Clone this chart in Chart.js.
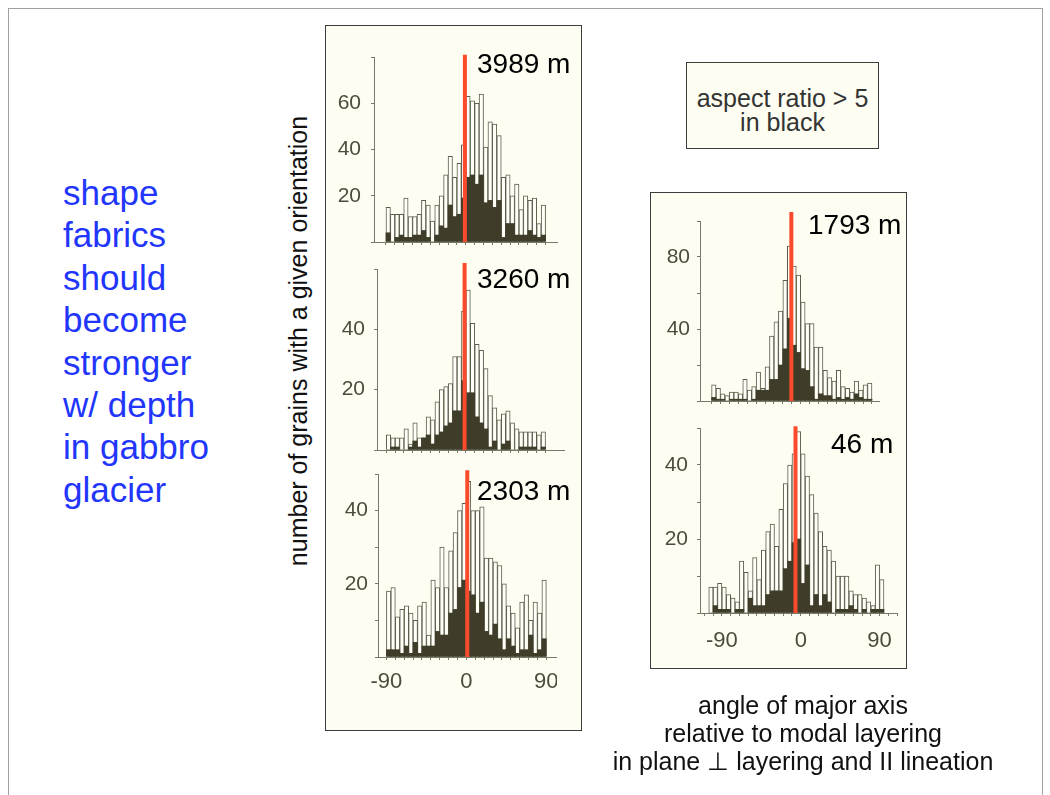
<!DOCTYPE html>
<html>
<head>
<meta charset="utf-8">
<script src="https://cdn.jsdelivr.net/npm/chart.js@4.4.1/dist/chart.umd.min.js"></script>
<style>
	body { margin:0; width:1050px; height:795px; overflow:hidden; position:relative; background:#fff;
		font-family:"Liberation Sans", Arial, Helvetica, sans-serif; }
	.abs { position:absolute; }
	#slide { left:8px; top:8px; width:1033px; height:800px; border:1px solid #a0a0a0; border-bottom:none; }
	.panel { background:#fdfdf1; border:1px solid #3c3c3c; box-sizing:border-box; }
	.depth { font-size:28px; line-height:28px; color:#000; white-space:nowrap; }
	#point { left:63px; top:172px; font-size:35px; line-height:42.4px; color:#2236fb; }
	#ylab { left:298px; top:341px; font-size:25px; color:#111; white-space:nowrap;
		transform:translate(-50%,-50%) rotate(-90deg); }
	#legend { left:686px; top:62px; width:193px; height:87px; }
	#legendTxt { left:686px; top:86px; width:193px; text-align:center; font-size:25px; line-height:24px; color:#333; }
	#caption { left:553px; top:691px; width:500px; text-align:center; font-size:25px; line-height:28px; color:#111; }
	canvas { position:absolute; }
</style>
</head>
<body>
<div id="slide" class="abs"></div>

<div id="point" class="abs">shape<br>fabrics<br>should<br>become<br>stronger<br>w/ depth<br>in gabbro<br>glacier</div>
<div id="ylab" class="abs">number of grains with a given orientation</div>

<div class="abs panel" style="left:325px; top:25px; width:257px; height:706px;"></div>
<div class="abs panel" style="left:650px; top:192px; width:257px; height:477px;"></div>
<div id="legend" class="abs panel"></div>
<div id="legendTxt" class="abs">aspect ratio &gt; 5<br>in black</div>

<canvas id="c3989" width="232" height="209" style="left:326px; top:45px;"></canvas>
<canvas id="c3260" width="239" height="205" style="left:326px; top:257px;"></canvas>
<canvas id="c2303" width="231" height="235" style="left:326px; top:462px;"></canvas>
<canvas id="c1793" width="228" height="204" style="left:652px; top:209px;"></canvas>
<canvas id="c46" width="246" height="240" style="left:652px; top:415px;"></canvas>

<div class="abs depth" style="left:477px; top:50px;">3989 m</div>
<div class="abs depth" style="left:477px; top:265px;">3260 m</div>
<div class="abs depth" style="left:477px; top:477px;">2303 m</div>
<div class="abs depth" style="left:808px; top:211px;">1793 m</div>
<div class="abs depth" style="left:831px; top:430px;">46 m</div>

<div id="caption" class="abs">angle of major axis<br>relative to modal layering<br>in plane &#8869; layering and II lineation</div>

<script>
// 5 degree bins, centre of each bin
var bins36 = [-87.5, -82.5, -77.5, -72.5, -67.5, -62.5, -57.5, -52.5, -47.5, -42.5, -37.5, -32.5,
	-27.5, -22.5, -17.5, -12.5, -7.5, -2.5, 2.5, 7.5, 12.5, 17.5, 22.5, 27.5,
	32.5, 37.5, 42.5, 47.5, 52.5, 57.5, 62.5, 67.5, 72.5, 77.5, 82.5, 87.5];
var bins40 = [-102.5, -97.5, -92.5, -87.5, -82.5, -77.5, -72.5, -67.5, -62.5, -57.5, -52.5, -47.5,
	-42.5, -37.5, -32.5, -27.5, -22.5, -17.5, -12.5, -7.5, -2.5, 2.5, 7.5, 12.5,
	17.5, 22.5, 27.5, 32.5, 37.5, 42.5, 47.5, 52.5, 57.5, 62.5, 67.5, 72.5, 77.5, 82.5, 87.5, 92.5];

// all grains (white) and grains with aspect ratio > 5 (black)
var all3989 = [15, 12, 12, 12, 19, 11, 11, 12, 18, 16, 9, 16, 20, 29, 37, 28, 34, 42,
	63, 61, 60, 64, 41, 52, 51, 46, 28, 29, 20, 25, 14, 20, 18, 19, 8, 16];
var blk3989 = [4, 0, 2, 3, 2, 2, 3, 3, 5, 2, 0, 3, 7, 6, 16, 11, 12, 19,
	28, 29, 25, 29, 17, 18, 15, 18, 2, 8, 8, 3, 3, 3, 5, 3, 2, 3];

var all3260 = [5, 4, 4, 4, 7, 2, 9, 4, 4, 11, 10, 16, 20, 21, 22, 31, 31, 46,
	53, 42, 35, 33, 27, 18, 14, 10, 12, 13, 9, 7, 6, 6, 6, 6, 5, 6];
var blk3260 = [0, 1, 1, 0, 0, 1, 3, 1, 4, 5, 2, 5, 6, 8, 9, 13, 13, 23,
	19, 19, 11, 9, 7, 1, 3, 0, 2, 3, 0, 0, 1, 1, 1, 1, 0, 1];

var all2303 = [18, 19, 11, 13, 14, 12, 10, 14, 15, 6, 21, 19, 30, 19, 29, 34, 40, 42,
	48, 40, 40, 41, 27, 27, 26, 25, 20, 14, 12, 8, 15, 17, 10, 15, 12, 21];
var blk2303 = [2, 2, 2, 1, 3, 1, 4, 1, 3, 3, 3, 7, 6, 6, 12, 13, 19, 21,
	18, 17, 12, 15, 7, 6, 9, 5, 2, 5, 3, 1, 2, 2, 6, 1, 2, 5];

var all1793 = [9, 7, 4, 3, 5, 5, 4, 12, 6, 8, 16, 7, 19, 36, 44, 50, 67, 86,
	75, 70, 55, 43, 43, 30, 30, 17, 13, 11, 17, 8, 7, 5, 11, 6, 9, 10];
var blk1793 = [2, 1, 1, 0, 1, 1, 1, 1, 0, 1, 6, 6, 6, 12, 12, 20, 29, 46,
	31, 27, 18, 17, 8, 1, 4, 3, 3, 1, 2, 1, 2, 1, 4, 2, 1, 1];

var all46 = [7, 7, 8, 7, 5, 4, 3, 14, 11, 6, 15, 9, 17, 22, 24, 18, 28, 35, 40, 43,
	49, 43, 37, 32, 27, 22, 18, 17, 14, 10, 10, 10, 6, 5, 5, 4, 3, 2, 13, 9];
var blk46 = [0, 2, 1, 1, 1, 0, 1, 1, 0, 4, 2, 2, 2, 5, 6, 6, 6, 12, 14, 19,
	20, 8, 13, 2, 5, 2, 5, 3, 0, 1, 1, 1, 2, 1, 0, 1, 0, 1, 1, 1];

// modal layering direction (red line) and how far up it goes
var redAngle = [-1, -1.5, 1, -0.5, -6];
var redTop = [81, 62, 51, 105, 50.5];

// axis ticks and the ones that carry a label
var yTicks = [[0, 20, 40, 60, 80], [0, 20, 40, 60], [0, 10, 20, 30, 40, 50], [0, 20, 40, 60, 80, 100], [0, 10, 20, 30, 40, 50]];
var yLabels = [[20, 40, 60], [20, 40], [20, 40], [40, 80], [20, 40]];
var xTicks36 = [-90, -80, -70, -60, -50, -40, -30, -20, -10, 0, 10, 20, 30, 40, 50, 60, 70, 80, 90];
var xTicks40 = [-110, -100, -90, -80, -70, -60, -50, -40, -30, -20, -10, 0, 10, 20, 30, 40, 50, 60, 70, 80, 90, 100, 110];
var xLabels = [-90, 0, 90];

var RED = '#fb4a2c';
var DARK = '#3f3d29';
var EDGE = '#5c5c4a';
var AXIS = '#77776a';
var TICK = '#4c4c3e';

Chart.defaults.font.family = '"Liberation Sans", Arial, Helvetica, sans-serif';

function pts(bins, vals) {
	var out = [];
	for (var i = 0; i < vals.length; i++) {
		out.push({ x: bins[i], y: vals[i] });
	}
	return out;
}

function histo(id, k, bins, all, blk, lay) {
	var ctx = document.getElementById(id).getContext('2d');
	var yt = yTicks[k];
	var yl = yLabels[k];
	return new Chart(ctx, {
		type: 'bar',
		data: {
			datasets: [
				{
					type: 'line',
					data: [{ x: redAngle[k], y: 0 }, { x: redAngle[k], y: redTop[k] }],
					borderColor: RED,
					borderWidth: 4,
					pointRadius: 0,
					clip: false,
					order: 0
				},
				{
					data: pts(bins, blk),
					backgroundColor: DARK,
					borderWidth: 0,
					grouped: false,
					barPercentage: 1,
					categoryPercentage: 1,
					order: 1
				},
				{
					data: pts(bins, all),
					backgroundColor: '#fffff8',
					borderColor: EDGE,
					borderWidth: 1,
					grouped: false,
					barPercentage: 1,
					categoryPercentage: 1,
					order: 2
				}
			]
		},
		options: {
			responsive: false,
			animation: false,
			devicePixelRatio: 1,
			layout: { padding: { top: lay.padTop, left: 0, right: 0, bottom: 0 } },
			plugins: { legend: { display: false }, tooltip: { enabled: false } },
			scales: {
				x: {
					type: 'linear',
					min: lay.xMin,
					max: lay.xMax,
					offset: false,
					grid: { offset: false, drawOnChartArea: false, tickLength: 3, color: AXIS },
					border: { color: AXIS },
					ticks: {
						display: lay.xLab,
						padding: lay.xPad,
						color: TICK,
						font: { size: 22 },
						maxRotation: 0,
						autoSkip: false,
						callback: function(v) { return xLabels.indexOf(v) >= 0 ? String(v) : ''; }
					},
					afterBuildTicks: function(s) {
						s.ticks = lay.xTicks.map(function(v) { return { value: v }; });
					},
					// keep the plot box fixed, labels may hang over the edge
					afterFit: function(s) {
						s.height = lay.xH;
						s.paddingLeft = 0;
						s.paddingRight = 0;
					}
				},
				y: {
					min: 0,
					max: yt[yt.length - 1],
					grid: { drawOnChartArea: false, tickLength: 3, color: AXIS },
					border: { color: AXIS },
					ticks: {
						padding: lay.yPad,
						color: TICK,
						font: { size: 21 },
						autoSkip: false,
						callback: function(v) { return yl.indexOf(v) >= 0 ? String(v) : ''; }
					},
					afterBuildTicks: function(s) {
						s.ticks = yt.map(function(v) { return { value: v }; });
					},
					afterFit: function(s) {
						s.width = lay.yW;
						s.paddingTop = 0;
						s.paddingBottom = 0;
					}
				}
			}
		}
	});
}

histo('c3989', 0, bins36, all3989, blk3989, { padTop: 12, yW: 48, xH: 12, yPad: 10, xPad: 6, xMin: -103.5, xMax: 104, xTicks: xTicks36, xLab: false });
histo('c3260', 1, bins36, all3260, blk3260, { padTop: 12, yW: 51, xH: 12, yPad: 9, xPad: 6, xMin: -100.5, xMax: 112, xTicks: xTicks36, xLab: false });
histo('c2303', 2, bins36, all2303, blk2303, { padTop: 12, yW: 52, xH: 40, yPad: 7, xPad: 9, xMin: -99.5, xMax: 102, xTicks: xTicks36, xLab: true });
histo('c1793', 3, bins36, all1793, blk1793, { padTop: 12, yW: 48, xH: 12, yPad: 7, xPad: 6, xMin: -103, xMax: 99, xTicks: xTicks36, xLab: false });
histo('c46', 4, bins40, all46, blk46, { padTop: 13, yW: 48, xH: 42, yPad: 9, xPad: 12, xMin: -115, xMax: 111, xTicks: xTicks40, xLab: true });
</script>
</body>
</html>
